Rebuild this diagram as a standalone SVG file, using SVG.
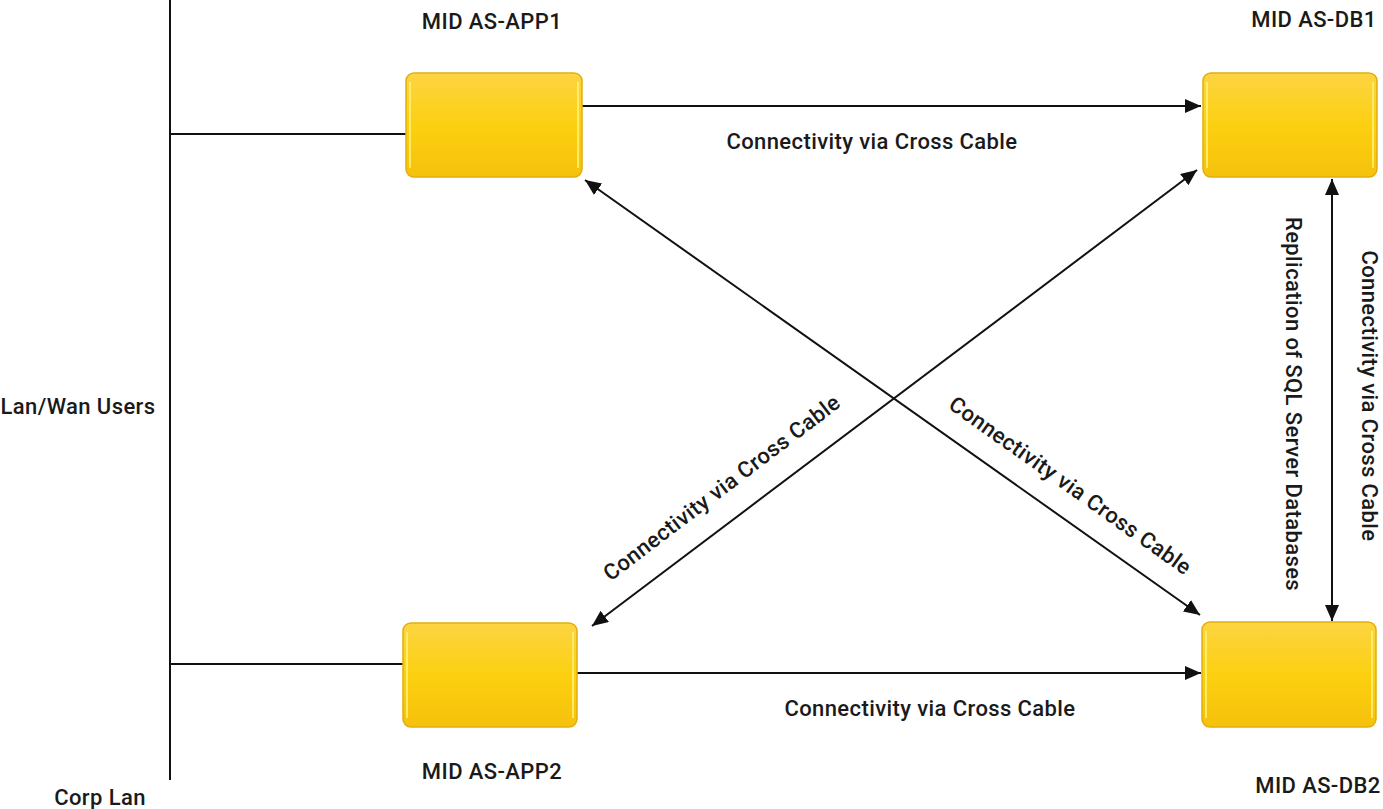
<svg xmlns="http://www.w3.org/2000/svg" width="1383" height="809" viewBox="0 0 1383 809">
<style>
text{font-family:Roboto,"Liberation Sans",sans-serif;font-size:22px;font-weight:500;letter-spacing:0.4px;fill:#1a1a1a}
.c{stroke:#111;stroke-width:2;fill:none}
.n{fill:url(#g);stroke:#e2ae0c;stroke-width:1.5}
.h{fill:none;stroke:#fff27a;stroke-width:2;opacity:.8}
</style>
<defs>
<linearGradient id="g" x1="0" y1="0" x2="0" y2="1">
<stop offset="0" stop-color="#fdd443"/>
<stop offset="0.5" stop-color="#fcd010"/>
<stop offset="1" stop-color="#f6c10c"/>
</linearGradient>
<marker id="b" viewBox="0 0 16 14" refX="16" refY="7" markerWidth="16" markerHeight="14" markerUnits="userSpaceOnUse" orient="auto-start-reverse">
<path d="M0,0 L16,7 L0,14 Z" fill="#111"/>
</marker>
</defs>
<g id="connectors">
<line class="c" x1="170" y1="0" x2="170" y2="780"/>
<line class="c" x1="170" y1="134" x2="406" y2="134"/>
<line class="c" x1="170" y1="664" x2="403" y2="664"/>
<line class="c" x1="582" y1="106" x2="1201" y2="106" marker-end="url(#b)"/>
<line class="c" x1="577" y1="673" x2="1201" y2="673" marker-end="url(#b)"/>
<line class="c" x1="585" y1="180" x2="1200" y2="615" marker-start="url(#b)" marker-end="url(#b)"/>
<line class="c" x1="592" y1="626" x2="1197" y2="170" marker-start="url(#b)" marker-end="url(#b)"/>
<line class="c" x1="1332" y1="179" x2="1332" y2="621" marker-start="url(#b)" marker-end="url(#b)"/>
<text x="872" y="149" text-anchor="middle">Connectivity via Cross Cable</text>
<text x="930" y="716" text-anchor="middle">Connectivity via Cross Cable</text>
<text transform="translate(722,488) rotate(-37.3)" x="0" y="7" text-anchor="middle">Connectivity via Cross Cable</text>
<text transform="translate(1070,486) rotate(35.3)" x="0" y="7" text-anchor="middle">Connectivity via Cross Cable</text>
<text transform="translate(1293,404) rotate(90)" x="0" y="7" text-anchor="middle">Replication of SQL Server Databases</text>
<text transform="translate(1369,396) rotate(90)" x="0" y="7" text-anchor="middle">Connectivity via Cross Cable</text>
</g>
<g id="lan">
<text x="78" y="414" text-anchor="middle">Lan/Wan Users</text>
<text x="100" y="805" text-anchor="middle">Corp Lan</text>
</g>
<g id="app1">
<rect class="n" x="406" y="73" width="176" height="104" rx="8"/>
<line class="h" x1="410" y1="82" x2="410" y2="168"/>
<line class="h" x1="578" y1="82" x2="578" y2="168"/>
<text x="492" y="29" text-anchor="middle">MID AS-APP1</text>
</g>
<g id="db1">
<rect class="n" x="1203" y="73" width="174" height="104" rx="8"/>
<line class="h" x1="1207" y1="82" x2="1207" y2="168"/>
<line class="h" x1="1373" y1="82" x2="1373" y2="168"/>
<text x="1314" y="27" text-anchor="middle">MID AS-DB1</text>
</g>
<g id="app2">
<rect class="n" x="403" y="623" width="174" height="104" rx="8"/>
<line class="h" x1="407" y1="632" x2="407" y2="718"/>
<line class="h" x1="573" y1="632" x2="573" y2="718"/>
<text x="492" y="779" text-anchor="middle">MID AS-APP2</text>
</g>
<g id="db2">
<rect class="n" x="1202" y="622" width="174" height="105" rx="8"/>
<line class="h" x1="1206" y1="631" x2="1206" y2="718"/>
<line class="h" x1="1372" y1="631" x2="1372" y2="718"/>
<text x="1318" y="793" text-anchor="middle">MID AS-DB2</text>
</g>
</svg>
